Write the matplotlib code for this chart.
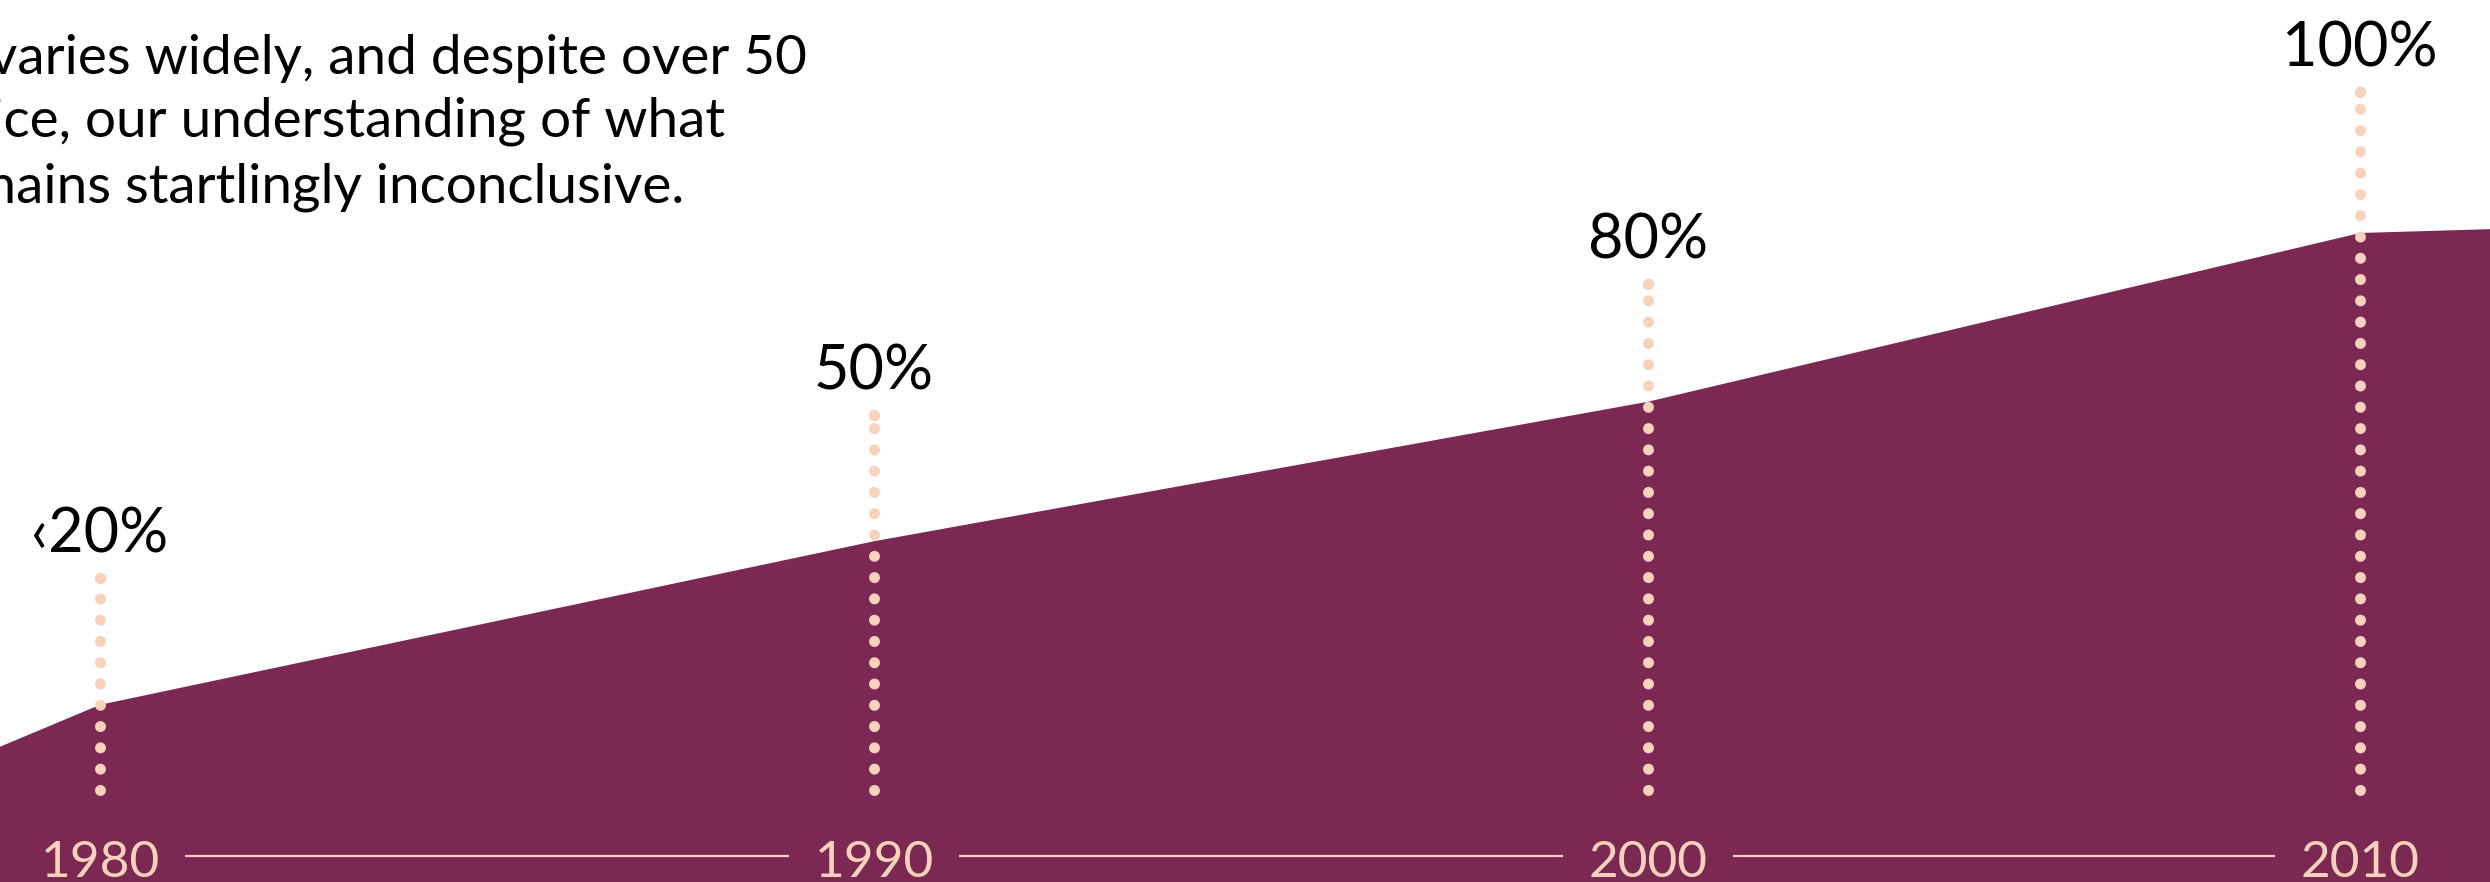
import matplotlib.pyplot as plt

plt.rcParams['font.family'] = ['Lato', 'DejaVu Sans']

# values
years = ['1980', '1990', '2000', '2010']
shares = ['\u203920%', '50%', '80%', '100%']
marker_x = [1980, 1990, 2000, 2009.2]
guide_top = [46.8, 72.0, 92.1, 121.7]
guide_bottom = 14.2

# outline of the filled area (edges of the frame included)
area_x = [1978.7, 1980, 1990, 2000, 2009.2, 2010.9]
area_y = [20.8, 27.3, 52.5, 74.0, 100.0, 100.6]

body = ['varies widely, and despite over 50',
        'fice, our understanding of what',
        'mains startlingly inconclusive.']

purple = '#7b2852'
peach = '#f9d2bc'

fig = plt.figure(figsize=(24.9, 8.82), dpi=100)
ax = fig.add_axes([0, 0, 1, 1])
ax.set_xlim(1978.708, 2010.879)
ax.set_ylim(0, 135.9)
ax.axis('off')

ax.fill_between(area_x, 0, area_y, color=purple, lw=0, zorder=1)

# dotted guides + share labels
for x, top, lab in zip(marker_x, guide_top, shares):
    ax.plot([x, x], [guide_bottom, top], color=peach, lw=7.9,
            linestyle=(0, (0.01, 1.93)), dash_capstyle='round', zorder=3)
    # round end cap at the top
    ax.plot([x], [top], 'o', color=peach, ms=8.2, mew=0, zorder=3)
    ax.text(x, top + 3.9, lab, ha='center', va='baseline',
            fontsize=44, color='black', zorder=4)

# axis line with year labels masking it
ax.plot([marker_x[0], marker_x[-1]], [4.0, 4.0], color=peach, lw=1.6, zorder=2)
for x, lab in zip(marker_x, years):
    ax.text(x, 0.8, lab, ha='center', va='baseline', fontsize=37,
            color=peach, zorder=4,
            bbox=dict(boxstyle='square,pad=0.5', fc=purple, ec='none'))

# intro text, cut by the left edge as in the source layout
offsets = [-11, -29, -29]
bases = [74, 137, 202]
for line, dx, b in zip(body, offsets, bases):
    fig.text(dx / 2490, 1 - b / 882, line, ha='left', va='baseline',
             fontsize=39.5, color='black')

fig.savefig('out.png', dpi=100)
